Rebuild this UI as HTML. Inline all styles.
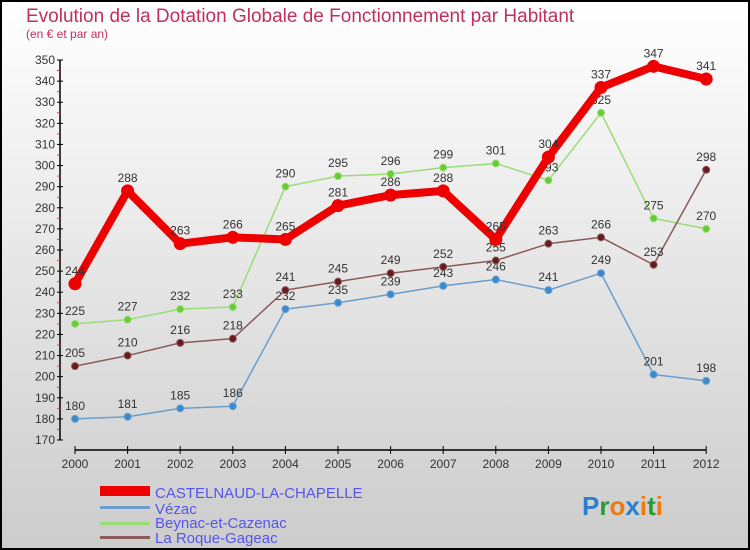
<!DOCTYPE html>
<html><head><meta charset="utf-8"><style>
body{margin:0}
#c{width:750px;height:550px;position:relative;overflow:hidden}
text{font-family:"Liberation Sans","DejaVu Sans",sans-serif}
</style></head><body>
<div id="c">
<svg id="s" width="750" height="550" xmlns="http://www.w3.org/2000/svg">
<defs><linearGradient id="bg" x1="0" y1="0" x2="0" y2="1"><stop offset="0" stop-color="#ffffff"/><stop offset="1" stop-color="#cccccc"/></linearGradient></defs>
<rect x="1" y="1" width="748" height="548" fill="url(#bg)" stroke="#000" stroke-width="2"/>
<text x="26" y="22" font-size="19" fill="#c0305a">Evolution de la Dotation Globale de Fonctionnement par Habitant</text>
<text x="26" y="38" font-size="12" fill="#c0305a">(en € et par an)</text>
<g id="axes"></g><g id="series"></g>
<g>
<rect x="100" y="486" width="50" height="10" fill="#e00"/>
<text x="155" y="498" font-size="15" fill="#5555ee">CASTELNAUD-LA-CHAPELLE</text>
<rect x="100" y="506" width="50" height="3" fill="#6a9fcc"/>
<text x="155" y="514" font-size="15" fill="#5555ee">Vézac</text>
<rect x="100" y="522" width="50" height="3" fill="#99dd77"/>
<text x="155" y="528" font-size="15" fill="#5555ee">Beynac-et-Cazenac</text>
<rect x="100" y="536" width="50" height="3" fill="#8a5a5a"/>
<text x="155" y="543" font-size="15" fill="#5555ee">La Roque-Gageac</text>
</g>
<text x="582" y="515" font-size="26" font-weight="bold"><tspan fill="#2a7fd0">P</tspan><tspan fill="#2a9a3a">r</tspan><tspan fill="#f07a10">o</tspan><tspan fill="#2a7fd0">x</tspan><tspan fill="#f07a10">i</tspan><tspan fill="#2a9a3a">t</tspan><tspan fill="#f07a10">i</tspan></text>
</svg></div>
<script>
const years=[2000,2001,2002,2003,2004,2005,2006,2007,2008,2009,2010,2011,2012];
const castelnaud=[244,288,263,266,265,281,286,288,265,304,337,347,341];
const vezac=[180,181,185,186,232,235,239,243,246,241,249,201,198];
const beynac=[225,227,232,233,290,295,296,299,301,293,325,275,270];
const roque=[205,210,216,218,241,245,249,252,255,263,266,253,298];
const yTicks=[170,180,190,200,210,220,230,240,250,260,270,280,290,300,310,320,330,340,350];
const NS="http://www.w3.org/2000/svg";
const X=i=>75+i*52.6, Y=v=>440-(v-170)*380/180;
function mk(t,a,p){const e=document.createElementNS(NS,t);for(const k in a)e.setAttribute(k,a[k]);p.appendChild(e);return e;}
const ax=document.getElementById('axes');
const yl=mk('line',{x1:60,y1:Y(350),x2:60,y2:440,stroke:'#000','stroke-width':1.5},ax);

yTicks.forEach((v,k)=>{mk('line',{x1:57,x2:63,y1:Y(v),y2:Y(v),stroke:'#000'},ax);
 if(k<yTicks.length-1) mk('line',{x1:57,x2:60,y1:Y(v+5),y2:Y(v+5),stroke:'#e33'},ax);
 const t=mk('text',{x:55,y:Y(v)+4,'font-size':12,fill:'#333','text-anchor':'end'},ax);t.textContent=v;
 });
const xl=mk('line',{x1:75,y1:450,x2:X(12),y2:450,stroke:'#000','stroke-width':1.5},ax);

years.forEach((y,i)=>{mk('line',{x1:X(i),x2:X(i),y1:446,y2:454,stroke:'#000'},ax);
 const t=mk('text',{x:X(i),y:468,'font-size':12,fill:'#333','text-anchor':'middle'},ax);t.textContent=y;
 });
const sg=document.getElementById('series');
function series(d,name,col,w,r,dot){const g=mk('g',{},sg);
 
 mk('polyline',{points:d.map((v,i)=>X(i)+','+Y(v)).join(' '),fill:'none',stroke:col,'stroke-width':w,'stroke-linejoin':'round'},g);
 d.forEach((v,i)=>{const c=mk('circle',{cx:X(i),cy:Y(v),r:r,fill:dot,stroke:col,'stroke-width':1},g);
  
  const t=mk('text',{x:X(i),y:Y(v)-9,'font-size':12,fill:'#333','text-anchor':'middle'},g);t.textContent=v;
  });}
series(vezac,'vezac','#6a9fcc',1.5,3.5,'#3a8ad0');
series(beynac,'beynac','#99dd77',1.5,3.5,'#66cc33');
series(roque,'roque','#8a5a5a',1.5,3.5,'#6a1a1a');
series(castelnaud,'castelnaud','#ee0000',8,6,'#ee0000');
</script></body></html>
